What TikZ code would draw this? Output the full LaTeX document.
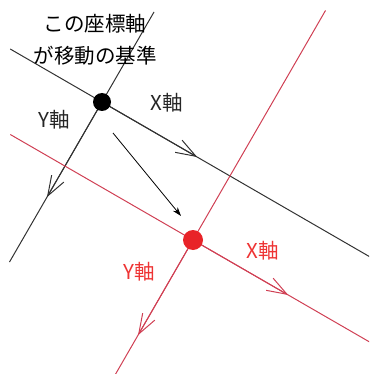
\documentclass[tikz,border=0pt]{standalone}
\usepackage{fontspec}
\newfontfamily\jp{Noto Sans CJK JP}
\usetikzlibrary{arrows.meta,calc}
\definecolor{redline}{RGB}{208,64,84}
\definecolor{reddot}{RGB}{232,35,40}
\definecolor{redtext}{RGB}{238,52,52}
\definecolor{axisgray}{RGB}{50,50,50}
\begin{document}
\begin{tikzpicture}[x=1pt,y=-1pt,
  blackaxis/.style={draw=axisgray,line width=1pt},
  redaxis/.style={draw=redline,line width=1pt},
  barb/.style={-{Straight Barb[length=20pt,width=14pt]}},
  lbl/.style={font=\jp\fontsize{20.5}{24}\selectfont,inner sep=0pt},
  dot/.style={circle,inner sep=0pt,minimum size=#1}]
\useasboundingbox (0,0) rectangle (369,374);
\begin{scope}
\clip (0,0) rectangle (369,374);
% black axes
\coordinate (O1) at (102,102);
\coordinate (bxs) at (10.2,49);
\coordinate (bxe) at (371,257.5);
\coordinate (bys) at (154,12);
\coordinate (bye) at (9.5,262);
\draw[blackaxis] (bxs) -- (bxe);
\draw[blackaxis] (bys) -- (bye);
\draw[blackaxis,barb] (O1) -- ($(O1)!110pt!(bxe)$);
\draw[blackaxis,barb] (O1) -- ($(O1)!110pt!(bye)$);
% red axes
\coordinate (O2) at (193,240);
\coordinate (rxs) at (10.3,134.5);
\coordinate (rxe) at (371,342.8);
\coordinate (rys) at (325.5,10.5);
\coordinate (rye) at (114,376.8);
\draw[redaxis] (rxs) -- (rxe);
\draw[redaxis] (rys) -- (rye);
\draw[redaxis,barb] (O2) -- ($(O2)!110pt!(rxe)$);
\draw[redaxis,barb] (O2) -- ($(O2)!110pt!(rye)$);
\end{scope}
% dots
\node[dot=18pt,fill=black] (d1) at (O1) {};
\node[dot=20pt,fill=reddot] (d2) at (O2) {};
% movement arrow
\coordinate (ms) at (113,133);
\coordinate (me) at (181,216);
\draw[line width=0.8pt,-{Stealth[length=9pt,width=6pt]}] (ms) -- (me);
% labels
\node[lbl] (t1) at (95,23.5) {この座標軸};
\node[lbl] (t2) at (95,56) {が移動の基準};
\node[lbl,text=black!85] (bx) at (166.5,102.5) {X軸};
\node[lbl,text=black!85] (by) at (54.5,120) {Y軸};
\node[lbl,text=redtext] (rx) at (263,251) {X軸};
\node[lbl,text=redtext] (ry) at (139.5,272) {Y軸};
\end{tikzpicture}
\end{document}
